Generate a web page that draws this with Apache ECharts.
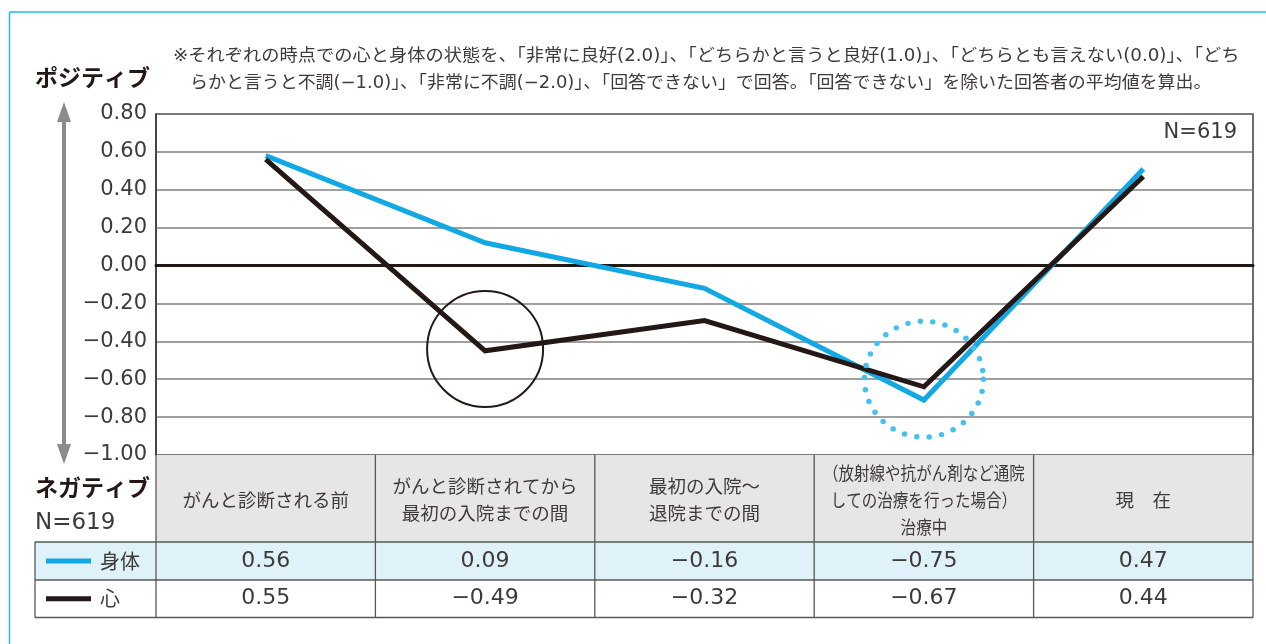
<!DOCTYPE html>
<html><head><meta charset="utf-8">
<script src="https://cdn.jsdelivr.net/npm/echarts@6/dist/echarts.min.js"></script>
<style>html,body{margin:0;padding:0;background:#fff}#c{width:1266px;height:644px}</style>
</head><body><div id="c"></div>
<script>
// ---------- data ----------
const categories = [
  'がんと診断される前',
  'がんと診断されてから\n最初の入院までの間',
  '最初の入院～\n退院までの間',
  '（放射線や抗がん剤など通院\nしての治療を行った場合）\n治療中',
  '現　在'
];
const seriesNames = ['身体', '心'];
// values as plotted
const bodyLine = [0.58, 0.12, -0.12, -0.71, 0.51];
const mindLine = [0.56, -0.45, -0.29, -0.64, 0.47];
// values printed in the table
const bodyTable = [0.56, 0.09, -0.16, -0.75, 0.47];
const mindTable = [0.55, -0.49, -0.32, -0.67, 0.44];
const yMin = -1.0, yMax = 0.8, yInterval = 0.2;
const noteLines = [
  '※それぞれの時点での心と身体の状態を、「非常に良好(2.0)」、「どちらかと言うと良好(1.0)」、「どちらとも言えない(0.0)」、「どち',
  'らかと言うと不調(−1.0)」、「非常に不調(−2.0)」、「回答できない」で回答。「回答できない」を除いた回答者の平均値を算出。'
];
const sampleLabel = 'N=619';
const upLabel = 'ポジティブ';
const downLabel = 'ネガティブ';
// highlighted spots: [category index, value]
const solidCircleAt = [1, -0.44];
const dottedCircleAt = [3, -0.6];

// ---------- style ----------
const BLUE = '#12a8e3', BLACK = '#231815', TXT = '#3e3a39';
const NUM = '"DejaVu Sans","Noto Sans CJK JP",sans-serif';
const JP = '"Noto Sans CJK JP",sans-serif';
const fmt = v => (v < -1e-9 ? '−' : '') + Math.abs(v).toFixed(2);

const chart = echarts.init(document.getElementById('c'), null, {renderer: 'canvas'});
const option = {
  animation: false,
  backgroundColor: '#fff',
  grid: {left: 156, right: 13, top: 114, bottom: 189, show: true,
         borderColor: TXT, borderWidth: 1.5, backgroundColor: 'transparent'},
  xAxis: {
    type: 'category', data: categories, boundaryGap: true,
    axisLine: {show: true, onZero: true, lineStyle: {color: BLACK, width: 3}},
    axisTick: {show: false}, axisLabel: {show: false}, splitLine: {show: false}
  },
  yAxis: {
    type: 'value', min: yMin, max: yMax, interval: yInterval,
    axisLine: {show: true, lineStyle: {color: TXT, width: 1.5}},
    axisTick: {show: false},
    axisLabel: {formatter: fmt, color: TXT, fontSize: 21, fontFamily: NUM, margin: 9},
    splitLine: {lineStyle: {color: '#808080', width: 1.5}}
  },
  series: [
    {
      name: seriesNames[0], type: 'line', data: bodyLine, symbol: 'none', z: 3,
      lineStyle: {color: BLUE, width: 5, join: 'miter'}, itemStyle: {color: BLUE},
      markPoint: {
        silent: true, symbol: 'circle', symbolSize: [119, 116], label: {show: false},
        itemStyle: {color: 'transparent', borderColor: '#45c0ef', borderWidth: 5.5,
                    borderType: [0, 12.4], borderCap: 'round'},
        data: [{coord: dottedCircleAt}]
      }
    },
    {
      name: seriesNames[1], type: 'line', data: mindLine, symbol: 'none', z: 4,
      lineStyle: {color: BLACK, width: 5, join: 'miter'}, itemStyle: {color: BLACK},
      markPoint: {
        silent: true, symbol: 'circle', symbolSize: 116, label: {show: false},
        itemStyle: {color: 'transparent', borderColor: BLACK, borderWidth: 2},
        data: [{coord: solidCircleAt}]
      }
    }
  ]
};
chart.setOption(option);

// ---------- table and decorations positioned from the chart's scales ----------
const xs = categories.map((c, i) => chart.convertToPixel({xAxisIndex: 0}, i));
const band = xs[1] - xs[0];
const yTop = chart.convertToPixel({yAxisIndex: 0}, yMax);
const yBot = chart.convertToPixel({yAxisIndex: 0}, yMin);
const leftEdge = xs[0] - band / 2, rightEdge = xs[xs.length - 1] + band / 2;
const legendLeft = 35;
const headerH = 87, rowH = [38, 37.5];
const r0 = yBot, r1 = r0 + headerH, r2 = r1 + rowH[0], r3 = r2 + rowH[1];
const LINE = '#595757';
const g = [];
const line = (x1, y1, x2, y2, stroke, w) => g.push({type: 'line', silent: true,
  shape: {x1, y1, x2, y2}, style: {stroke, lineWidth: w}, z: 10});
const text = (t, x, y, font, align, extra, sx) => g.push({type: 'text', silent: true, x, y, z: 12,
  scaleX: sx || 1,
  style: Object.assign({text: t, font, fill: TXT, textAlign: align || 'center', textVerticalAlign: 'middle'}, extra || {})});

// cyan frame
line(9.5, 12, 1266, 12, '#29b6ea', 1.5);
line(9.5, 12, 9.5, 644, '#29b6ea', 1.5);
// note
text(noteLines[0], 173, 56, '17.6px ' + NUM, 'left', null, 1.037);
text(noteLines[1], 190, 83, '17.6px ' + NUM, 'left', null, 1.02);
// axis direction labels & arrow
text(upLabel, 35, 77, 'bold 23px ' + JP, 'left', {fill: '#231815'});
text(downLabel, 35, 487, 'bold 23px ' + JP, 'left', {fill: '#231815'});
text(sampleLabel, 35, 523, '23px ' + NUM, 'left');
line(64, yTop + 4, 64, yBot - 6, '#8b8b8f', 4);
g.push({type: 'polygon', silent: true, z: 10, shape: {points: [[57, yTop + 8], [71, yTop + 8], [64, yTop - 12]]}, style: {fill: '#8b8b8f'}});
g.push({type: 'polygon', silent: true, z: 10, shape: {points: [[57, yBot - 11], [71, yBot - 11], [64, yBot + 9]]}, style: {fill: '#8b8b8f'}});
// N inside the plot
text(sampleLabel, rightEdge - 16, yTop + 19, '21px ' + NUM, 'right');
// table backgrounds
g.push({type: 'rect', silent: true, z: 5, shape: {x: leftEdge, y: r0, width: rightEdge - leftEdge, height: headerH}, style: {fill: '#e6e6e7'}});
g.push({type: 'rect', silent: true, z: 5, shape: {x: legendLeft, y: r1, width: rightEdge - legendLeft, height: rowH[0]}, style: {fill: '#dff2fa'}});
// table lines
[r1, r2, r3].forEach(y => line(legendLeft, y, rightEdge, y, LINE, 1.3));
line(legendLeft, r1, legendLeft, r3, LINE, 1.3);
for (let i = 0; i <= xs.length; i++) {
  const x = leftEdge + i * band;
  line(x, r0, x, r3, LINE, 1.3);
}
// header texts and values
categories.forEach((c, i) => {
  const lines = c.split('\n');
  const widest = Math.max(...lines.map(s => s.length));
  const sx = widest > 11 ? 0.84 : 1;
  text(c, xs[i], (r0 + r1) / 2 + 1, '18.5px ' + JP, 'center', {lineHeight: 27}, sx);
  text(fmt(bodyTable[i]), xs[i], (r1 + r2) / 2, '22px ' + NUM, 'center');
  text(fmt(mindTable[i]), xs[i], (r2 + r3) / 2, '22px ' + NUM, 'center');
});
// legend swatches
line(46, (r1 + r2) / 2, 91, (r1 + r2) / 2, BLUE, 5);
line(46, (r2 + r3) / 2, 91, (r2 + r3) / 2, BLACK, 5);
text(seriesNames[0], 100, (r1 + r2) / 2, '20px ' + JP, 'left');
text(seriesNames[1], 100, (r2 + r3) / 2, '20px ' + JP, 'left');

chart.setOption({graphic: g});
</script></body></html>
